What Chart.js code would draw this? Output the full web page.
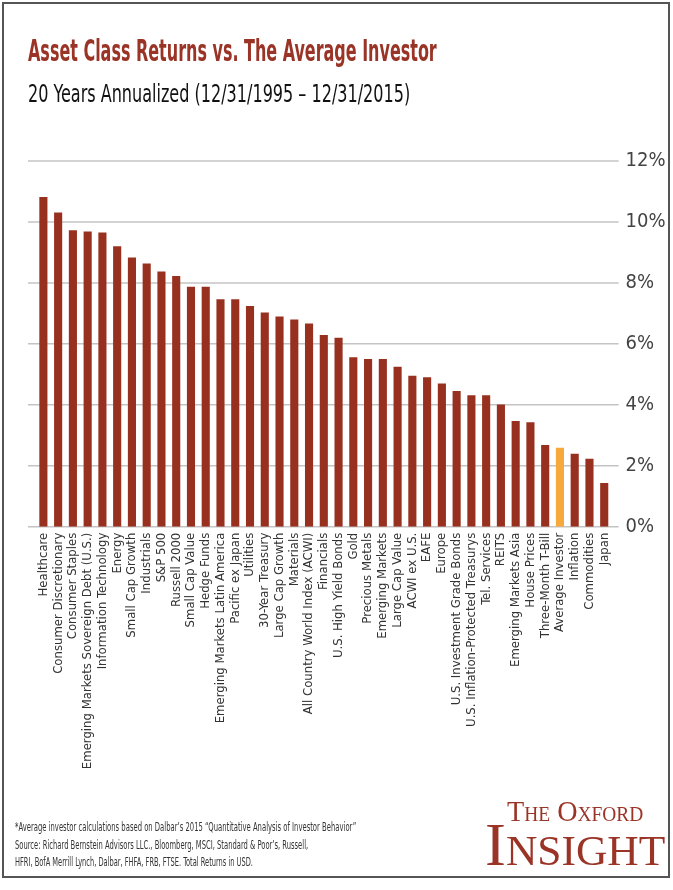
<!DOCTYPE html>
<html>
<head>
<meta charset="utf-8">
<script src="https://cdn.jsdelivr.net/npm/chart.js@4.4.0/dist/chart.umd.min.js"></script>
<style>
  body { margin: 0; background: #fff; width: 673px; height: 890px; overflow: hidden; position: relative; }
  #frame { position: absolute; left: 2px; top: 2px; width: 664px; height: 872px; border: 2px solid #555; }
  #mycanvas { position: absolute; left: 0; top: 0; }
  .txt { position: absolute; white-space: nowrap; line-height: 1; display: inline-block; transform-origin: 0 0;
         font-family: "Liberation Sans Narrow", "DejaVu Sans Condensed", sans-serif; }
  #title { left: 28px; top: 35px; font-size: 31px; font-weight: bold; color: #9a3427; }
  #subtitle { left: 28px; top: 82px; font-size: 24px; color: #111; }
  .foot { left: 15px; font-size: 12.5px; color: #333; }
  .logo { font-family: "Liberation Serif", "DejaVu Serif", serif; font-variant: small-caps; color: #9a3427; }
</style>
</head>
<body>
<div id="frame"></div>
<canvas id="mycanvas" width="673" height="890"></canvas>
<div class="txt" id="title" data-w="409">Asset Class Returns vs. The Average Investor</div>
<div class="txt" id="subtitle" data-w="382">20 Years Annualized (12/31/1995 – 12/31/2015)</div>
<div class="txt foot" style="top:821px" data-w="341">*Average investor calculations based on Dalbar’s 2015 “Quantitative Analysis of Investor Behavior”</div>
<div class="txt foot" style="top:839px" data-w="293">Source: Richard Bernstein Advisors LLC., Bloomberg, MSCI, Standard &amp; Poor’s, Russell,</div>
<div class="txt foot" style="top:856px" data-w="238">HFRI, BofA Merrill Lynch, Dalbar, FHFA, FRB, FTSE. Total Returns in USD.</div>
<div class="txt logo" style="left:507px;top:797px;font-size:29px" data-w="136">The Oxford</div>
<div class="txt logo" style="left:485px;top:813px;font-size:62px" data-w="180">Insight</div>
<script>
var labels = [
  "Healthcare", "Consumer Discretionary", "Consumer Staples", "Emerging Markets Sovereign Debt (U.S.)",
  "Information Technology", "Energy", "Small Cap Growth", "Industrials", "S&P 500", "Russell 2000",
  "Small Cap Value", "Hedge Funds", "Emerging Markets Latin America", "Pacific ex Japan", "Utilities",
  "30-Year Treasury", "Large Cap Growth", "Materials", "All Country World Index (ACWI)", "Financials",
  "U.S. High Yield Bonds", "Gold", "Precious Metals", "Emerging Markets", "Large Cap Value",
  "ACWI ex U.S.", "EAFE", "Europe", "U.S. Investment Grade Bonds", "U.S. Inflation-Protected Treasurys",
  "Tel. Services", "REITS", "Emerging Markets Asia", "House Prices", "Three-Month T-Bill",
  "Average Investor", "Inflation", "Commodities", "Japan"
];
var returns = [
  10.82, 10.31, 9.73, 9.69, 9.65, 9.20, 8.83, 8.64, 8.37, 8.23,
  7.87, 7.87, 7.46, 7.46, 7.24, 7.03, 6.90, 6.80, 6.67, 6.29,
  6.20, 5.56, 5.50, 5.50, 5.25, 4.95, 4.90, 4.70, 4.45, 4.31,
  4.31, 4.01, 3.47, 3.43, 2.68, 2.59, 2.39, 2.23, 1.43
];
var yTicks = [0, 2, 4, 6, 8, 10, 12];
var highlight = "Average Investor";

var RED = "#98301f";
var ORANGE = "#f7a93b";
var NARROW = '"Liberation Sans Narrow", "DejaVu Sans Condensed", sans-serif';

var barColors = labels.map(function(l) { return l === highlight ? ORANGE : RED; });

// horizontal rules, a bit wider than the plot area like the original
var extGrid = {
  id: "extGrid",
  beforeDatasetsDraw: function(chart) {
    var ctx = chart.ctx, area = chart.chartArea, y = chart.scales.y;
    ctx.save();
    ctx.strokeStyle = "#c4c4c4";
    ctx.lineWidth = 1.5;
    yTicks.forEach(function(v) {
      var py = y.getPixelForValue(v);
      ctx.beginPath();
      ctx.moveTo(area.left - 8, py);
      ctx.lineTo(area.right + 7, py);
      ctx.stroke();
    });
    ctx.restore();
  }
};

var chartdata = {
  labels: labels,
  datasets: [{
    data: returns,
    backgroundColor: barColors,
    categoryPercentage: 1,
    barPercentage: 0.55
  }]
};

new Chart(document.getElementById("mycanvas"), {
  type: "bar",
  data: chartdata,
  plugins: [extGrid],
  options: {
    responsive: false,
    animation: false,
    devicePixelRatio: 1,
    layout: { padding: { left: 36, top: 161, right: 0, bottom: 0 } },
    plugins: { legend: { display: false }, tooltip: { enabled: false }, title: { display: false } },
    scales: {
      x: {
        grid: { display: false, drawTicks: false },
        border: { display: false },
        ticks: { autoSkip: false, minRotation: 90, maxRotation: 90, padding: 6, color: "#333",
                 font: { family: NARROW, size: 13 } },
        afterFit: function(s) { s.height = 363.3; }
      },
      y: {
        position: "right",
        min: 0, max: 12,
        grid: { display: false, drawTicks: false },
        border: { display: false },
        afterBuildTicks: function(s) { s.ticks = yTicks.map(function(v) { return { value: v }; }); },
        ticks: { padding: 14, color: "#444", font: { family: NARROW, size: 20 },
                 callback: function(v) { return v + "%"; } },
        afterFit: function(s) { s.width = 61.4; }
      }
    }
  }
});

// squeeze the html texts to the widths seen in the original
document.querySelectorAll("[data-w]").forEach(function(el) {
  var k = parseFloat(el.getAttribute("data-w")) / el.offsetWidth;
  el.style.transform = "scaleX(" + k + ")";
});
</script>
</body>
</html>
